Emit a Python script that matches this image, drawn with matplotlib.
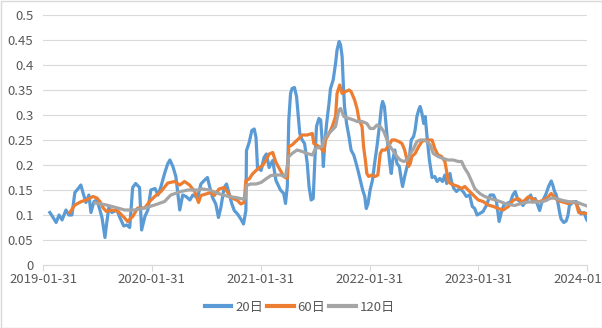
import matplotlib
matplotlib.use('Agg')
import matplotlib.pyplot as plt
import matplotlib.dates as mdates
from matplotlib.ticker import FuncFormatter
from matplotlib.patches import Rectangle
import pandas as pd

plt.rcParams['font.family'] = ['Noto Sans CJK SC', 'DejaVu Sans']

# rolling volatility, 20 / 60 / 120 day windows
vol_20 = [
    ('2019-02-23', 0.105), ('2019-03-06', 0.095), ('2019-03-16', 0.085), ('2019-03-26', 0.100),
    ('2019-04-05', 0.090), ('2019-04-18', 0.110), ('2019-04-28', 0.100), ('2019-05-08', 0.100),
    ('2019-05-18', 0.145), ('2019-05-28', 0.152), ('2019-06-07', 0.160), ('2019-06-14', 0.145),
    ('2019-06-24', 0.125), ('2019-07-04', 0.140), ('2019-07-11', 0.105), ('2019-07-21', 0.127),
    ('2019-07-31', 0.130), ('2019-08-10', 0.110), ('2019-08-17', 0.095), ('2019-08-27', 0.055),
    ('2019-09-02', 0.085), ('2019-09-09', 0.115), ('2019-09-19', 0.105), ('2019-10-06', 0.110),
    ('2019-10-16', 0.095), ('2019-10-29', 0.078), ('2019-11-08', 0.080), ('2019-11-18', 0.075),
    ('2019-11-28', 0.155), ('2019-12-08', 0.163), ('2019-12-21', 0.155), ('2019-12-28', 0.070),
    ('2020-01-08', 0.097), ('2020-01-18', 0.110), ('2020-01-28', 0.150), ('2020-02-11', 0.153),
    ('2020-02-21', 0.140), ('2020-03-02', 0.157), ('2020-03-15', 0.185), ('2020-03-25', 0.203),
    ('2020-04-01', 0.210), ('2020-04-11', 0.197), ('2020-04-21', 0.177), ('2020-05-04', 0.110),
    ('2020-05-14', 0.140), ('2020-05-25', 0.137), ('2020-06-07', 0.130), ('2020-06-17', 0.140),
    ('2020-07-03', 0.135), ('2020-07-14', 0.162), ('2020-07-25', 0.169), ('2020-08-05', 0.175),
    ('2020-08-11', 0.160), ('2020-08-22', 0.135), ('2020-09-02', 0.122), ('2020-09-11', 0.095),
    ('2020-09-19', 0.115), ('2020-09-30', 0.155), ('2020-10-08', 0.162), ('2020-10-17', 0.142),
    ('2020-10-26', 0.122), ('2020-11-03', 0.109), ('2020-11-14', 0.102), ('2020-11-25', 0.092),
    ('2020-12-04', 0.082), ('2020-12-12', 0.109), ('2020-12-14', 0.229), ('2020-12-23', 0.245),
    ('2021-01-01', 0.269), ('2021-01-09', 0.272), ('2021-01-15', 0.255), ('2021-01-20', 0.195),
    ('2021-02-01', 0.189), ('2021-02-11', 0.215), ('2021-02-19', 0.222), ('2021-02-28', 0.195),
    ('2021-03-12', 0.209), ('2021-03-23', 0.169), ('2021-04-07', 0.150), ('2021-04-18', 0.143),
    ('2021-04-24', 0.123), ('2021-04-30', 0.157), ('2021-05-05', 0.290), ('2021-05-11', 0.343),
    ('2021-05-16', 0.353), ('2021-05-24', 0.355), ('2021-05-31', 0.337), ('2021-06-05', 0.303),
    ('2021-06-11', 0.263), ('2021-06-19', 0.250), ('2021-06-27', 0.243), ('2021-07-06', 0.203),
    ('2021-07-12', 0.157), ('2021-07-19', 0.130), ('2021-07-26', 0.133), ('2021-07-31', 0.203),
    ('2021-08-06', 0.277), ('2021-08-14', 0.293), ('2021-08-20', 0.290), ('2021-08-25', 0.250),
    ('2021-08-29', 0.197), ('2021-09-02', 0.237), ('2021-09-09', 0.283), ('2021-09-17', 0.323),
    ('2021-09-22', 0.353), ('2021-10-01', 0.370), ('2021-10-09', 0.403), ('2021-10-14', 0.430),
    ('2021-10-21', 0.447), ('2021-10-26', 0.440), ('2021-10-31', 0.417), ('2021-11-04', 0.363),
    ('2021-11-08', 0.317), ('2021-11-15', 0.283), ('2021-11-23', 0.257), ('2021-11-30', 0.230),
    ('2021-12-09', 0.220), ('2021-12-14', 0.210), ('2021-12-23', 0.190), ('2021-12-31', 0.170),
    ('2022-01-08', 0.150), ('2022-01-15', 0.137), ('2022-01-20', 0.113), ('2022-01-26', 0.123),
    ('2022-02-02', 0.150), ('2022-02-10', 0.170), ('2022-02-17', 0.203), ('2022-02-25', 0.237),
    ('2022-03-05', 0.277), ('2022-03-12', 0.317), ('2022-03-16', 0.327), ('2022-03-22', 0.317),
    ('2022-03-27', 0.283), ('2022-04-03', 0.237), ('2022-04-09', 0.203), ('2022-04-14', 0.183),
    ('2022-04-19', 0.210), ('2022-04-26', 0.230), ('2022-05-03', 0.203), ('2022-05-11', 0.197),
    ('2022-05-18', 0.170), ('2022-05-22', 0.157), ('2022-05-29', 0.177), ('2022-06-06', 0.197),
    ('2022-06-14', 0.217), ('2022-06-20', 0.250), ('2022-06-28', 0.257), ('2022-07-03', 0.270),
    ('2022-07-09', 0.297), ('2022-07-15', 0.310), ('2022-07-20', 0.317), ('2022-07-26', 0.303),
    ('2022-08-01', 0.283), ('2022-08-06', 0.297), ('2022-08-12', 0.257), ('2022-08-20', 0.210),
    ('2022-08-29', 0.175), ('2022-09-07', 0.177), ('2022-09-15', 0.167), ('2022-09-24', 0.173),
    ('2022-10-03', 0.167), ('2022-10-11', 0.180), ('2022-10-17', 0.163), ('2022-10-28', 0.183),
    ('2022-11-02', 0.167), ('2022-11-10', 0.153), ('2022-11-19', 0.147), ('2022-11-30', 0.153),
    ('2022-12-11', 0.147), ('2022-12-22', 0.137), ('2023-01-02', 0.140), ('2023-01-11', 0.117),
    ('2023-01-19', 0.113), ('2023-01-27', 0.100), ('2023-02-05', 0.103), ('2023-02-16', 0.107),
    ('2023-02-28', 0.120), ('2023-03-12', 0.140), ('2023-03-23', 0.140), ('2023-04-02', 0.127),
    ('2023-04-11', 0.087), ('2023-04-19', 0.107), ('2023-04-27', 0.120), ('2023-05-06', 0.123),
    ('2023-05-19', 0.126), ('2023-05-27', 0.140), ('2023-06-04', 0.147), ('2023-06-13', 0.130),
    ('2023-06-22', 0.126), ('2023-06-30', 0.119), ('2023-07-08', 0.126), ('2023-07-17', 0.133),
    ('2023-07-26', 0.140), ('2023-08-02', 0.126), ('2023-08-10', 0.133), ('2023-08-19', 0.119),
    ('2023-08-25', 0.109), ('2023-08-31', 0.123), ('2023-09-08', 0.133), ('2023-09-16', 0.143),
    ('2023-09-24', 0.157), ('2023-10-03', 0.168), ('2023-10-08', 0.160), ('2023-10-14', 0.147),
    ('2023-10-20', 0.140), ('2023-10-25', 0.126), ('2023-10-31', 0.105), ('2023-11-05', 0.092),
    ('2023-11-14', 0.085), ('2023-11-22', 0.088), ('2023-11-28', 0.099), ('2023-12-03', 0.119),
    ('2023-12-15', 0.126), ('2023-12-26', 0.127), ('2023-12-31', 0.116), ('2024-01-06', 0.109),
    ('2024-01-11', 0.102), ('2024-01-21', 0.105), ('2024-01-29', 0.092), ('2024-01-31', 0.090),
]

vol_60 = [
    ('2019-05-01', 0.105), ('2019-05-18', 0.120), ('2019-06-09', 0.127), ('2019-06-26', 0.130),
    ('2019-07-18', 0.137), ('2019-07-31', 0.134), ('2019-08-10', 0.127), ('2019-08-21', 0.114),
    ('2019-09-01', 0.107), ('2019-09-18', 0.110), ('2019-10-09', 0.108), ('2019-11-01', 0.094),
    ('2019-11-11', 0.087), ('2019-11-28', 0.097), ('2019-12-15', 0.114), ('2020-01-07', 0.114),
    ('2020-01-24', 0.127), ('2020-02-10', 0.137), ('2020-03-02', 0.147), ('2020-03-25', 0.164),
    ('2020-04-17', 0.167), ('2020-05-04', 0.160), ('2020-05-20', 0.167), ('2020-06-06', 0.160),
    ('2020-06-23', 0.147), ('2020-07-06', 0.125), ('2020-07-14', 0.139), ('2020-07-31', 0.142),
    ('2020-08-17', 0.145), ('2020-08-28', 0.139), ('2020-09-13', 0.152), ('2020-09-30', 0.155),
    ('2020-10-12', 0.145), ('2020-10-23', 0.135), ('2020-11-03', 0.132), ('2020-11-14', 0.129),
    ('2020-11-25', 0.122), ('2020-12-06', 0.125), ('2020-12-12', 0.169), ('2020-12-23', 0.172),
    ('2021-01-03', 0.182), ('2021-01-15', 0.189), ('2021-01-26', 0.195), ('2021-02-06', 0.199),
    ('2021-02-17', 0.209), ('2021-02-28', 0.222), ('2021-03-12', 0.225), ('2021-03-23', 0.205),
    ('2021-04-18', 0.177), ('2021-04-30', 0.173), ('2021-05-05', 0.237), ('2021-05-16', 0.240),
    ('2021-05-28', 0.247), ('2021-06-08', 0.253), ('2021-06-19', 0.260), ('2021-07-06', 0.260),
    ('2021-07-23', 0.263), ('2021-07-28', 0.243), ('2021-08-14', 0.237), ('2021-08-31', 0.227),
    ('2021-09-05', 0.250), ('2021-09-17', 0.263), ('2021-09-28', 0.277), ('2021-10-09', 0.297),
    ('2021-10-14', 0.343), ('2021-10-23', 0.360), ('2021-10-31', 0.343), ('2021-11-12', 0.347),
    ('2021-11-23', 0.350), ('2021-11-30', 0.347), ('2021-12-12', 0.330), ('2021-12-20', 0.313),
    ('2021-12-27', 0.290), ('2022-01-06', 0.277), ('2022-01-11', 0.237), ('2022-01-17', 0.210),
    ('2022-01-22', 0.183), ('2022-01-28', 0.177), ('2022-02-08', 0.180), ('2022-02-19', 0.177),
    ('2022-02-28', 0.180), ('2022-03-08', 0.223), ('2022-03-14', 0.230), ('2022-03-25', 0.230),
    ('2022-04-03', 0.237), ('2022-04-10', 0.243), ('2022-04-16', 0.250), ('2022-04-27', 0.250),
    ('2022-05-09', 0.247), ('2022-05-20', 0.243), ('2022-05-29', 0.230), ('2022-06-06', 0.210),
    ('2022-06-11', 0.197), ('2022-06-17', 0.203), ('2022-06-22', 0.217), ('2022-07-03', 0.223),
    ('2022-07-15', 0.237), ('2022-07-26', 0.247), ('2022-08-06', 0.250), ('2022-08-29', 0.250),
    ('2022-09-07', 0.233), ('2022-09-18', 0.220), ('2022-09-30', 0.217), ('2022-10-11', 0.207),
    ('2022-10-17', 0.187), ('2022-10-22', 0.167), ('2022-10-30', 0.163), ('2022-11-10', 0.160),
    ('2022-11-25', 0.157), ('2022-12-06', 0.153), ('2022-12-17', 0.157), ('2022-12-28', 0.150),
    ('2023-01-09', 0.143), ('2023-01-19', 0.137), ('2023-01-31', 0.130), ('2023-02-16', 0.127),
    ('2023-03-05', 0.120), ('2023-03-23', 0.117), ('2023-04-08', 0.113), ('2023-04-25', 0.110),
    ('2023-05-12', 0.117), ('2023-05-27', 0.129), ('2023-06-13', 0.133), ('2023-06-30', 0.126),
    ('2023-07-17', 0.136), ('2023-08-02', 0.133), ('2023-08-19', 0.126), ('2023-09-05', 0.129),
    ('2023-09-22', 0.136), ('2023-10-03', 0.143), ('2023-10-14', 0.136), ('2023-10-25', 0.129),
    ('2023-11-11', 0.126), ('2023-11-28', 0.123), ('2023-12-15', 0.126), ('2023-12-26', 0.123),
    ('2024-01-03', 0.105), ('2024-01-11', 0.104), ('2024-01-31', 0.103),
]

vol_120 = [
    ('2019-07-24', 0.124), ('2019-09-01', 0.120), ('2019-10-09', 0.114), ('2019-11-01', 0.110),
    ('2019-12-04', 0.110), ('2020-01-07', 0.114), ('2020-02-10', 0.120), ('2020-03-14', 0.127),
    ('2020-04-04', 0.140), ('2020-05-08', 0.147), ('2020-06-01', 0.150), ('2020-07-04', 0.150),
    ('2020-07-19', 0.152), ('2020-08-11', 0.150), ('2020-09-02', 0.145), ('2020-09-25', 0.140),
    ('2020-10-17', 0.137), ('2020-11-08', 0.135), ('2020-12-01', 0.132), ('2020-12-10', 0.132),
    ('2020-12-14', 0.159), ('2020-12-29', 0.162), ('2021-01-15', 0.162), ('2021-02-01', 0.165),
    ('2021-02-17', 0.172), ('2021-03-06', 0.179), ('2021-03-23', 0.180), ('2021-04-07', 0.180),
    ('2021-04-24', 0.177), ('2021-05-05', 0.217), ('2021-05-16', 0.223), ('2021-06-02', 0.230),
    ('2021-06-19', 0.227), ('2021-07-06', 0.223), ('2021-07-23', 0.220), ('2021-08-03', 0.233),
    ('2021-08-25', 0.237), ('2021-08-31', 0.250), ('2021-09-11', 0.260), ('2021-09-28', 0.270),
    ('2021-10-09', 0.277), ('2021-10-20', 0.310), ('2021-10-26', 0.313), ('2021-11-06', 0.297),
    ('2021-11-23', 0.293), ('2021-12-09', 0.290), ('2021-12-20', 0.287), ('2022-01-06', 0.287),
    ('2022-01-22', 0.283), ('2022-02-02', 0.273), ('2022-02-14', 0.273), ('2022-02-25', 0.280),
    ('2022-03-08', 0.277), ('2022-03-20', 0.267), ('2022-03-31', 0.250), ('2022-04-10', 0.237),
    ('2022-04-22', 0.227), ('2022-05-03', 0.217), ('2022-05-14', 0.210), ('2022-05-26', 0.207),
    ('2022-06-06', 0.210), ('2022-06-17', 0.223), ('2022-06-28', 0.233), ('2022-07-09', 0.247),
    ('2022-07-20', 0.250), ('2022-08-01', 0.250), ('2022-08-12', 0.247), ('2022-08-23', 0.240),
    ('2022-09-02', 0.223), ('2022-09-18', 0.217), ('2022-10-05', 0.213), ('2022-10-22', 0.210),
    ('2022-11-08', 0.210), ('2022-11-25', 0.207), ('2022-12-06', 0.207), ('2022-12-17', 0.193),
    ('2022-12-28', 0.183), ('2023-01-09', 0.167), ('2023-01-19', 0.153), ('2023-02-05', 0.143),
    ('2023-02-22', 0.137), ('2023-03-12', 0.133), ('2023-03-29', 0.130), ('2023-04-14', 0.127),
    ('2023-05-01', 0.123), ('2023-06-02', 0.119), ('2023-06-24', 0.123), ('2023-07-17', 0.126),
    ('2023-08-08', 0.126), ('2023-08-31', 0.126), ('2023-09-16', 0.129), ('2023-09-28', 0.133),
    ('2023-10-08', 0.134), ('2023-10-25', 0.132), ('2023-11-11', 0.129), ('2023-11-28', 0.127),
    ('2023-12-15', 0.126), ('2023-12-31', 0.125), ('2024-01-17', 0.121), ('2024-01-31', 0.118),
]

labels = ['20日', '60日', '120日']
colors = ['#5B9BD5', '#ED7D31', '#A5A5A5']
year_ticks = ['2019-01-31', '2020-01-31', '2021-01-31', '2022-01-31', '2023-01-31', '2024-01-31']

fig = plt.figure(figsize=(6.02, 3.28), dpi=100)
ax = fig.add_axes([43 / 602, 63 / 328, 544 / 602, 250 / 328])

for series, name, c in zip([vol_20, vol_60, vol_120], labels, colors):
    dates = pd.to_datetime([d for d, v in series])
    vals = [v for d, v in series]
    ax.plot(dates, vals, color=c, lw=2.3, label=name, solid_joinstyle='round')

ticks = pd.to_datetime(year_ticks)
ax.set_xlim(ticks[0], ticks[-1])
ax.set_xticks(ticks)
ax.xaxis.set_major_formatter(mdates.DateFormatter('%Y-%m-%d'))
ax.set_ylim(0, 0.5)
ax.set_yticks([i * 0.05 for i in range(11)])
ax.yaxis.set_major_formatter(FuncFormatter(lambda v, p: '%g' % round(v, 2)))

ax.grid(axis='y', color='#D9D9D9', lw=0.8)
ax.set_axisbelow(True)
for s in ['top', 'right', 'left']:
    ax.spines[s].set_visible(False)
ax.spines['bottom'].set_color('#D9D9D9')
ax.spines['bottom'].set_linewidth(0.8)
ax.tick_params(axis='y', length=0, pad=7, labelsize=9.5, labelcolor='#595959')
ax.tick_params(axis='x', length=4, width=0.8, color='#D9D9D9', pad=1.5,
               labelsize=9.5, labelcolor='#595959')

leg = ax.legend(loc='center', bbox_to_anchor=(300 / 602, 21 / 328),
                bbox_transform=fig.transFigure, ncol=3, frameon=False,
                fontsize=9.5, handlelength=2.0, handletextpad=0.3,
                columnspacing=0.3, borderpad=0)
for t in leg.get_texts():
    t.set_color('#595959')
for h in leg.get_lines():
    h.set_linewidth(3.0)

fig.patches.append(Rectangle((0.5 / 602, 0.5 / 328), 601 / 602, 327 / 328,
                             transform=fig.transFigure, fill=False,
                             edgecolor='#D9D9D9', lw=1.0))

fig.savefig('out.png', dpi=100)
